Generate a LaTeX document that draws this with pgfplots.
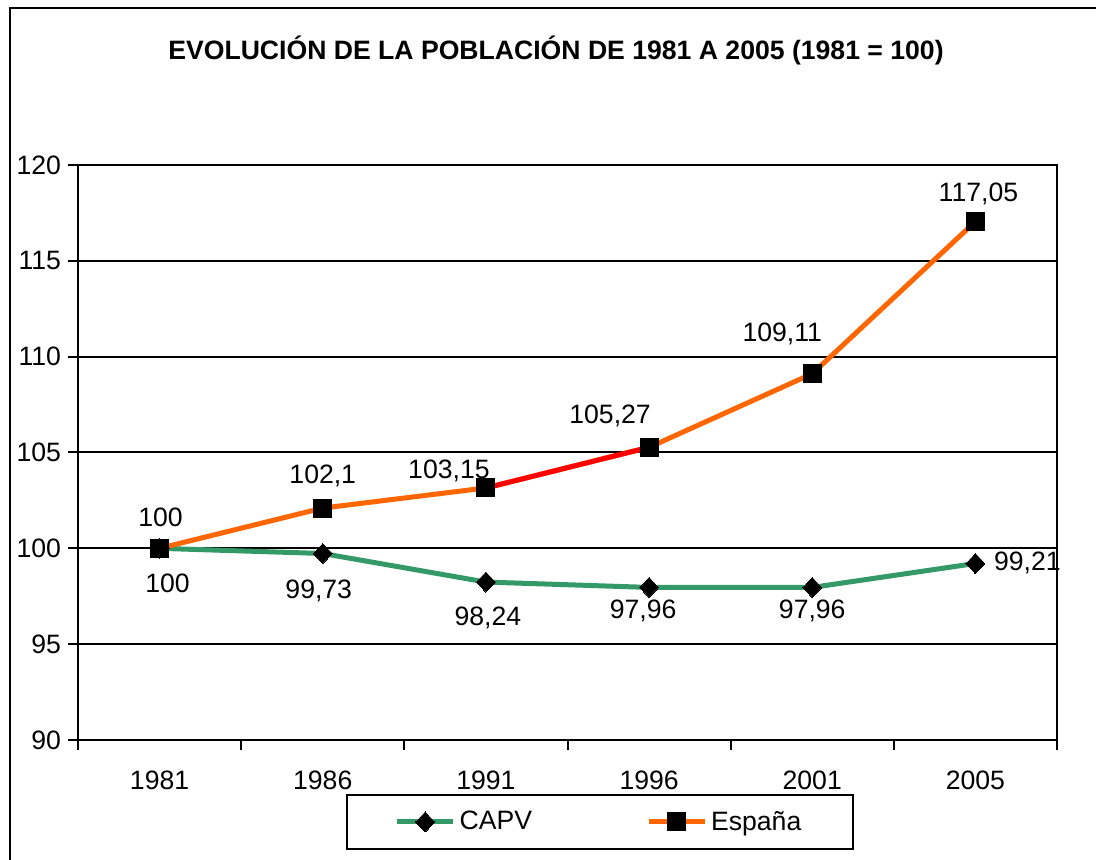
\documentclass[border=0pt]{standalone}
\usepackage{fontspec}
\setmainfont{Liberation Sans}
\usepackage{pgfplots}
\usepackage{pgfplotstable}
\pgfplotsset{compat=1.18}
\definecolor{capv}{RGB}{51,153,102}
\definecolor{esp}{RGB}{255,102,0}
\definecolor{espred}{RGB}{255,0,0}

\pgfplotstableread{
x y lab dx dy
0 100 100 0.5 15.5
1 102.1 102,1 0 16
2 103.15 103,15 -18.5 8.5
3 105.27 105,27 -19.5 15.5
4 109.11 109,11 -15 20
5 117.05 117,05 1.5 14
}\espdata
\pgfplotstableread{
x y lab dx dy
0 100 100 4 -17.5
1 99.73 99,73 -2 -18.5
2 98.24 98,24 1 -18
3 97.96 97,96 -3 -11.5
4 97.96 97,96 0 -11.5
5 99.21 99,21 26 0.5
}\capvdata

\begin{document}
\begin{tikzpicture}
\useasboundingbox (0,0) rectangle (548pt,430pt);
\draw[line width=1pt] (5pt,0pt) -- (5pt,426pt) -- (548pt,426pt);
\node[font=\fontsize{13.3}{15.5}\selectfont\bfseries] at (278pt,405pt) {EVOLUCIÓN DE LA POBLACIÓN DE 1981 A 2005 (1981 = 100)};
\begin{axis}[
  at={(39pt,60pt)}, anchor=south west,
  scale only axis, width=489.5pt, height=287.5pt,
  xmin=-0.5, xmax=5.5, ymin=90, ymax=120,
  xtick={0,...,5},
  xticklabels={1981,1986,1991,1996,2001,2005},
  minor xtick={-0.5,0.5,...,5.5},
  ytick={90,95,...,120},
  tick align=outside,
  major tick length=5pt, minor tick length=5pt,
  x tick style={draw=none},
  minor x tick style={draw=black, line width=1pt},
  y tick style={draw=black, line width=1pt},
  axis line style={line width=1pt},
  ymajorgrids, major grid style={black, line width=1pt},
  xtick pos=bottom, ytick pos=left,
  ticklabel style={font=\fontsize{13.3}{15.5}\selectfont},
  /pgf/number format/assume math mode=true,
  xticklabel style={yshift=-7pt},
  yticklabel style={xshift=0pt},
  legend columns=2,
  legend style={at={(0.5332,-0.1426)}, anchor=center, draw=black, line width=1pt,
    font=\fontsize{13.3}{15.5}\selectfont, inner xsep=24pt, inner ysep=6pt,
    /tikz/every even column/.append style={column sep=55pt}},
  legend image code/.code={\draw[mark repeat=2,mark phase=2] plot coordinates {(0pt,0pt)(14pt,0pt)(28pt,0pt)};},
  clip=false,
]
\addplot[capv, line width=2.5pt, mark=diamond*, mark size=5pt, mark options={black, fill=black, line width=0pt, xscale=1.26}] table[x=x,y=y] {\capvdata};
\addlegendentry{CAPV}
\addplot[esp, line width=2.5pt, mark=square*, mark size=4.5pt, mark options={black, fill=black, line width=0pt}] table[x=x,y=y] {\espdata};
\addlegendentry{España}
\addplot[espred, line width=2.5pt, forget plot] coordinates {(2,103.15) (3,105.27)};
\addplot[only marks, mark=square*, mark size=4.5pt, mark options={black, fill=black, line width=0pt}, forget plot] table[x=x,y=y] {\espdata};
\addplot[draw=none, mark=none, forget plot, point meta=explicit symbolic,
  visualization depends on={\thisrow{dx} \as \dx},
  visualization depends on={\thisrow{dy} \as \dy},
  nodes near coords, nodes near coords align={center},
  every node near coord/.append style={font=\fontsize{13.3}{15.5}\selectfont, text=black, xshift=\dx pt, yshift=\dy pt}]
  table[x=x,y=y,meta=lab] {\espdata};
\addplot[draw=none, mark=none, forget plot, point meta=explicit symbolic,
  visualization depends on={\thisrow{dx} \as \dx},
  visualization depends on={\thisrow{dy} \as \dy},
  nodes near coords, nodes near coords align={center},
  every node near coord/.append style={font=\fontsize{13.3}{15.5}\selectfont, text=black, xshift=\dx pt, yshift=\dy pt}]
  table[x=x,y=y,meta=lab] {\capvdata};
\end{axis}
\end{tikzpicture}
\end{document}
